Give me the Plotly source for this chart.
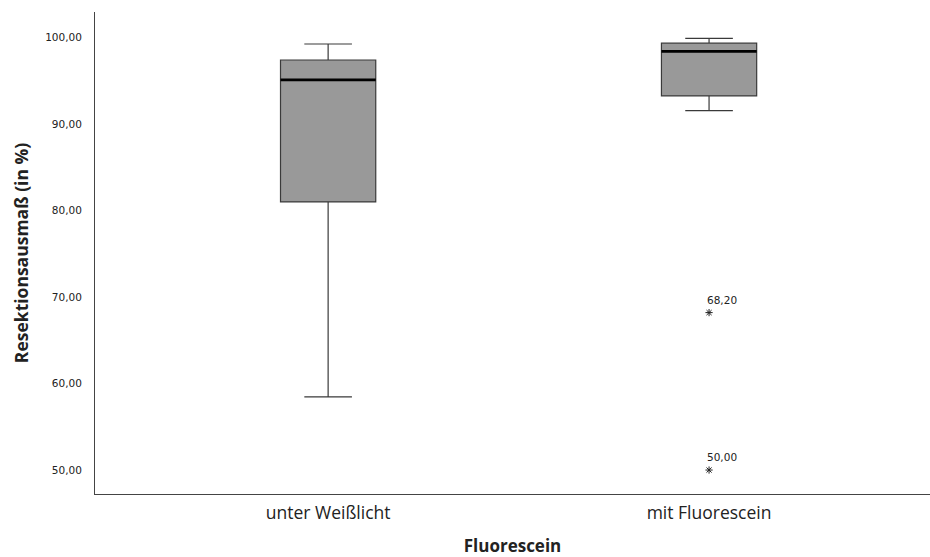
import plotly.graph_objects as go

# Group labels and five-number summaries (Resektionsausmaß in %)
categories = ["unter Weißlicht", "mit Fluorescein"]
lower_whisker = [58.45, 91.55]
q1 = [81.0, 93.25]
median = [95.1, 98.4]
q3 = [97.4, 99.35]
upper_whisker = [99.25, 99.9]

# Extreme values of the second group
outlier_group = [1, 1]
outlier_values = [68.20, 50.00]
outlier_labels = ["68,20", "50,00"]

positions = list(range(len(categories)))
box_width = 0.25

fig = go.Figure()

fig.add_trace(go.Box(
    x=positions,
    q1=q1, median=median, q3=q3,
    lowerfence=lower_whisker, upperfence=upper_whisker,
    width=box_width,
    whiskerwidth=0.5,
    fillcolor="#999999",
    line=dict(color="#3a3a3a", width=1.2),
    boxpoints=False,
    hoverinfo="skip",
    showlegend=False,
))

# Thicker median bars drawn on top of the boxes
for p, m in zip(positions, median):
    fig.add_trace(go.Scatter(
        x=[p - box_width / 2, p + box_width / 2], y=[m, m],
        mode="lines", line=dict(color="black", width=2.6),
        hoverinfo="skip", showlegend=False,
    ))

# Extreme values with their labels
fig.add_trace(go.Scatter(
    x=outlier_group, y=outlier_values,
    mode="markers",
    marker=dict(symbol="asterisk-open", size=6, color="#222222",
                line=dict(color="#222222", width=1)),
    hoverinfo="skip", showlegend=False,
))
for g, v, lab in zip(outlier_group, outlier_values, outlier_labels):
    fig.add_annotation(
        x=g, y=v, text=lab, showarrow=False,
        xanchor="left", yanchor="bottom", xshift=-4, yshift=5,
        font=dict(family="DejaVu Sans", size=10.5, color="#222222"),
    )

fig.update_layout(
    width=930, height=557,
    margin=dict(l=95, r=0, t=12, b=63),
    plot_bgcolor="white", paper_bgcolor="white",
    font=dict(family="Open Sans", color="#222222"),
    xaxis=dict(
        range=[-0.612, 1.58],
        tickvals=positions, ticktext=categories,
        tickfont=dict(family="Open Sans", size=17.5, color="#222222"),
        showgrid=False, zeroline=False,
        showline=True, linecolor="#444444", linewidth=1,
        ticks="outside", ticklen=3, tickcolor="rgba(0,0,0,0)",
        title=dict(text="<b>Fluorescein</b>", standoff=20,
                   font=dict(family="Open Sans", size=17, color="#222222")),
    ),
    yaxis=dict(
        range=[47.23, 102.95],
        tickvals=[50, 60, 70, 80, 90, 100],
        ticktext=["50,00", "60,00", "70,00", "80,00", "90,00", "100,00"],
        tickfont=dict(family="DejaVu Sans", size=10.5, color="#222222"),
        showgrid=False, zeroline=False,
        showline=True, linecolor="#444444", linewidth=1,
        ticks="outside", ticklen=10, tickcolor="rgba(0,0,0,0)",
        title=dict(text="<b>Resektionsausmaß (in %)</b>", standoff=12,
                   font=dict(family="Open Sans", size=17.5, color="#222222")),
    ),
)

fig.write_html("out.html")
